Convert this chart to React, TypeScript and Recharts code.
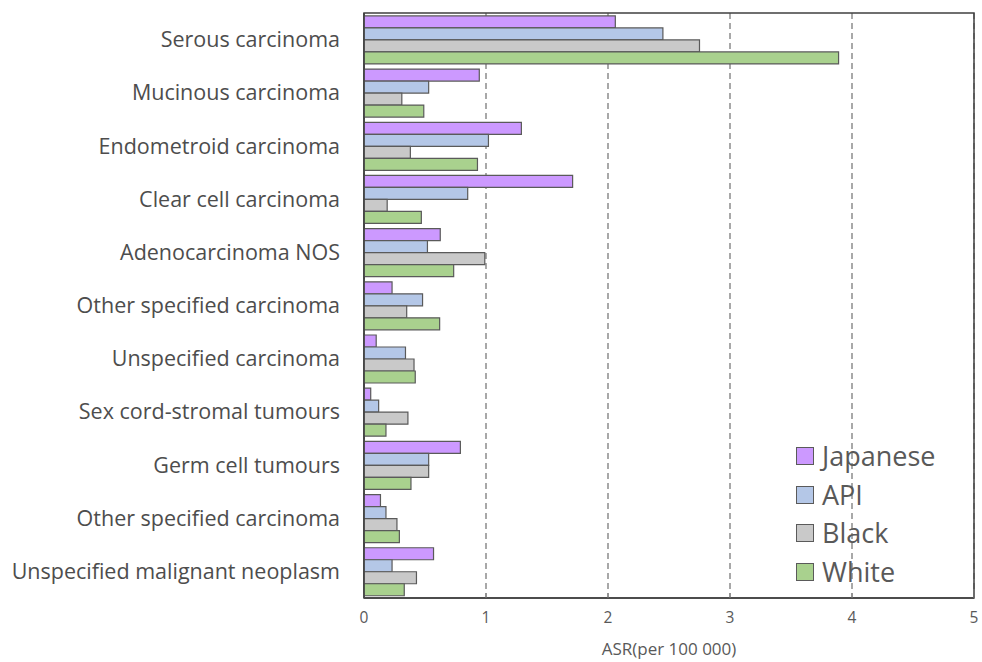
import React from 'react';
import { BarChart, Bar, XAxis, YAxis, CartesianGrid, Legend, ReferenceArea } from 'recharts';

const categories = [
  'Serous carcinoma',
  'Mucinous carcinoma',
  'Endometroid carcinoma',
  'Clear cell carcinoma',
  'Adenocarcinoma NOS',
  'Other specified carcinoma',
  'Unspecified carcinoma',
  'Sex cord-stromal tumours',
  'Germ cell tumours',
  'Other specified carcinoma ',
  'Unspecified malignant neoplasm',
];

const japanese = [2.06, 0.945, 1.29, 1.71, 0.625, 0.23, 0.1, 0.055, 0.79, 0.135, 0.57];
const api = [2.45, 0.53, 1.02, 0.85, 0.52, 0.48, 0.34, 0.12, 0.53, 0.18, 0.23];
const black = [2.75, 0.31, 0.38, 0.19, 0.99, 0.35, 0.41, 0.36, 0.53, 0.27, 0.43];
const white = [3.89, 0.49, 0.93, 0.47, 0.735, 0.62, 0.42, 0.18, 0.385, 0.29, 0.33];

const xTicks = [0, 1, 2, 3, 4, 5];

const series = [
  { key: 'Japanese', values: japanese, color: '#CC99FF' },
  { key: 'API', values: api, color: '#B4C7E7' },
  { key: 'Black', values: black, color: '#C9C9C9' },
  { key: 'White', values: white, color: '#A9D18E' },
];

const data = categories.map((c, i) => {
  const row: any = { name: c };
  series.forEach((s) => {
    row[s.key] = s.values[i];
  });
  return row;
});

const FONT = '"Open Sans", "Noto Sans", sans-serif';

const LegendContent = () => (
  <div style={{ fontFamily: FONT }}>
    {series.map((s) => (
      <div key={s.key} style={{ display: 'flex', alignItems: 'center', height: 38.5 }}>
        <div
          style={{
            width: 16,
            height: 16,
            background: s.color,
            border: '1.5px solid #5a5a5a',
            marginRight: 8,
          }}
        />
        <span style={{ fontSize: 27, color: '#595959', lineHeight: '32px' }}>{s.key}</span>
      </div>
    ))}
  </div>
);

export default function App() {
  return (
    <div style={{ position: 'absolute', left: 0, top: 0 }}>
      <BarChart
        width={982}
        height={662}
        data={data}
        layout="vertical"
        margin={{ top: 13, right: 8, bottom: 4, left: 0 }}
        barCategoryGap="5.5%"
        barGap={0}
      >
        <CartesianGrid horizontal={false} stroke="#8c8c8c" strokeDasharray="6 4" strokeWidth={1.5} />
        <XAxis
          type="number"
          domain={[0, 5]}
          ticks={xTicks}
          height={60}
          axisLine={{ stroke: '#404040', strokeWidth: 1.5 }}
          tickLine={{ stroke: '#808080' }}
          tickSize={-5}
          tickMargin={19}
          tick={{ fill: '#595959', fontSize: 15.5, fontFamily: FONT }}
          label={{
            value: 'ASR(per 100 000)',
            position: 'insideBottom',
            offset: 3,
            fill: '#595959',
            fontSize: 17,
            fontFamily: FONT,
          }}
        />
        <YAxis
          type="category"
          dataKey="name"
          width={364}
          axisLine={{ stroke: '#404040', strokeWidth: 1.5 }}
          tickLine={false}
          tickSize={8}
          tickMargin={16}
          interval={0}
          tick={{ fill: '#4d4d4d', fontSize: 21.5, fontFamily: FONT }}
        />
        {series.map((s) => (
          <Bar
            key={s.key}
            dataKey={s.key}
            fill={s.color}
            stroke="#5a5a5a"
            strokeWidth={1.2}
            isAnimationActive={false}
          />
        ))}
        <ReferenceArea x1={0} x2={5} fill="none" stroke="#404040" strokeWidth={1.5} ifOverflow="visible" />
        <Legend
          layout="vertical"
          content={<LegendContent />}
          wrapperStyle={{ position: 'absolute', left: 796, top: 437, width: 180, height: 0, overflow: 'visible' }}
        />
      </BarChart>
    </div>
  );
}
